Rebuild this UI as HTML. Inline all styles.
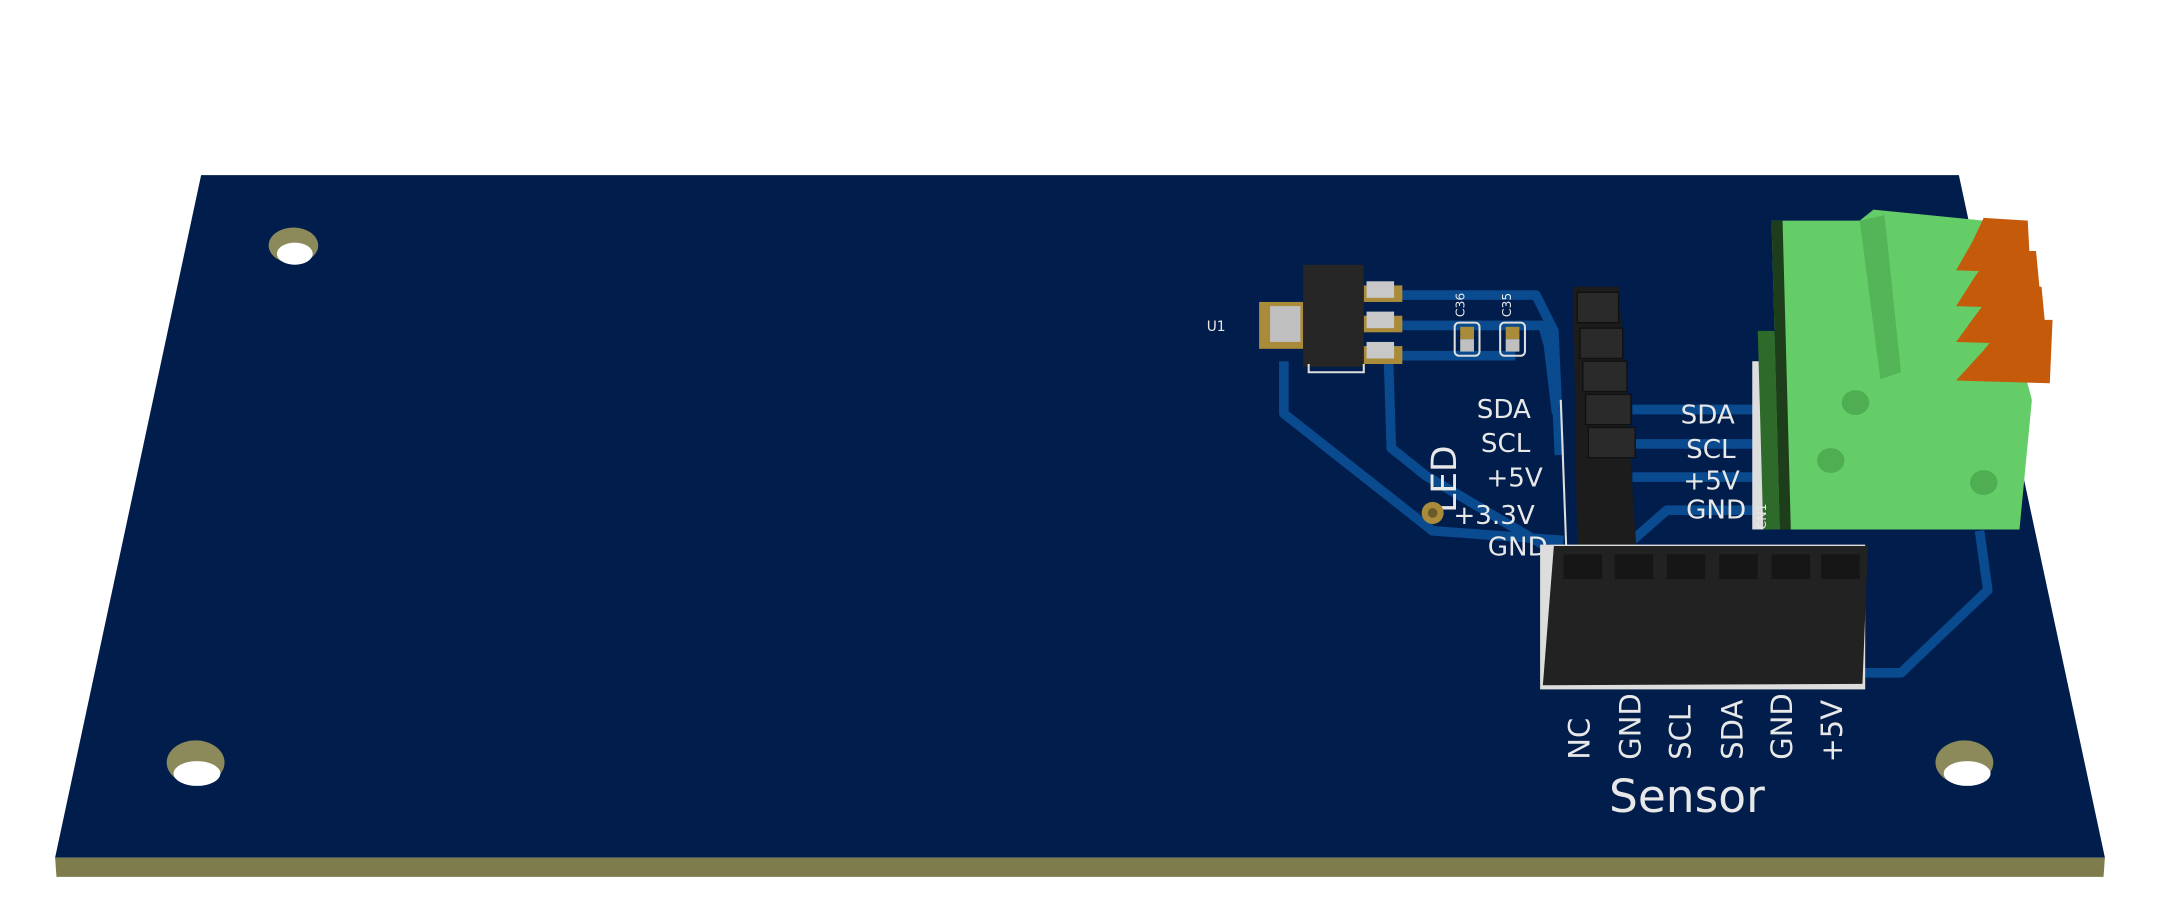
<!DOCTYPE html>
<html><head><meta charset="utf-8"><style>
html,body{margin:0;padding:0;background:#fff;}
svg{display:block;}
text{font-family:"DejaVu Sans","Liberation Sans",sans-serif;fill:#e8e8e8;}
</style></head><body>
<svg width="2160" height="910" viewBox="0 0 1568 660" preserveAspectRatio="none" xmlns="http://www.w3.org/2000/svg">
<rect width="1568" height="660" fill="#fff"/>
<polygon points="146,127 1422,127 1528,622 40,622" fill="#001d4b"/>
<polygon points="40,622 1528,622 1527,636 41,636" fill="#7e7c4c"/>
<g>
<ellipse cx="213" cy="178" rx="18" ry="13" fill="#8c8a5a"/><ellipse cx="214" cy="184" rx="13" ry="8" fill="#fff"/>
<ellipse cx="142" cy="553" rx="21" ry="16" fill="#8c8a5a"/><ellipse cx="143" cy="561" rx="17" ry="9" fill="#fff"/>
<ellipse cx="1426" cy="553" rx="21" ry="16" fill="#8c8a5a"/><ellipse cx="1428" cy="561" rx="17" ry="9" fill="#fff"/>
</g>
<g fill="none" stroke="#0a4a8e" stroke-width="7" stroke-linejoin="round">
<polyline points="1010,214 1115,214 1128,240 1132,330"/>
<polyline points="1010,236 1120,236 1124,250 1130,300"/>
<polyline points="1010,258 1100,258"/>
<polyline points="932,262 932,300 1040,385 1135,392"/>
<polyline points="1008,262 1010,325 1035,345 1120,395"/>
<polyline points="1185,297 1282,297"/>
<polyline points="1185,322 1282,322"/>
<polyline points="1185,346 1282,346"/>
<polyline points="1185,392 1210,370 1280,370"/>
<polyline points="1350,488 1380,488 1443,428 1437,385"/>
</g>
<text x="876" y="240" font-size="10">U1</text>
<rect x="914" y="219" width="32" height="34" fill="#a98b3a"/>
<rect x="922" y="222" width="22" height="26" fill="#c0c0c0"/>
<rect x="990" y="207" width="28" height="12" fill="#a98b3a"/>
<rect x="990" y="229" width="28" height="12" fill="#a98b3a"/>
<rect x="990" y="251" width="28" height="13" fill="#a98b3a"/>
<rect x="992" y="204" width="20" height="12" fill="#c8c8c8"/>
<rect x="992" y="226" width="20" height="12" fill="#c8c8c8"/>
<rect x="992" y="248" width="20" height="12" fill="#c8c8c8"/>
<rect x="946" y="192" width="44" height="74" fill="#262626"/>
<polyline points="950,264 950,270 990,270 990,264" fill="none" stroke="#ddd" stroke-width="1.5"/>
<text font-size="9" transform="translate(1063,230) rotate(-90)">C36</text>
<text font-size="9" transform="translate(1097,230) rotate(-90)">C35</text>
<rect x="1056" y="234" width="18" height="24" rx="3" fill="none" stroke="#ddd" stroke-width="1.5"/>
<rect x="1060" y="237" width="10" height="9" fill="#a98b3a"/><rect x="1060" y="246" width="10" height="9" fill="#c0c0c0"/>
<rect x="1089" y="234" width="18" height="24" rx="3" fill="none" stroke="#ddd" stroke-width="1.5"/>
<rect x="1093" y="237" width="10" height="9" fill="#a98b3a"/><rect x="1093" y="246" width="10" height="9" fill="#c0c0c0"/>
<g font-size="19">
<text x="1072" y="303">SDA</text>
<text x="1075" y="328">SCL</text>
<text x="1079" y="353">+5V</text>
<text x="1055" y="380">+3.3V</text>
<text x="1080" y="403">GND</text>
<text x="1220" y="307">SDA</text>
<text x="1224" y="332">SCL</text>
<text x="1222" y="355">+5V</text>
<text x="1224" y="376">GND</text>
</g>
<text font-size="25" transform="translate(1057,372) rotate(-90)">LED</text>
<circle cx="1040" cy="372" r="8" fill="#a98b3a"/><circle cx="1040" cy="372" r="3.5" fill="#6a5a2a"/>
<polygon points="1142,208 1175,208 1188,398 1145,398" fill="#1c1c1c"/>
<g fill="#2a2a2a" stroke="#111" stroke-width="1">
<rect x="1145" y="212" width="30" height="22"/><rect x="1147" y="238" width="31" height="22"/><rect x="1149" y="262" width="32" height="22"/><rect x="1151" y="286" width="33" height="22"/><rect x="1153" y="310" width="34" height="22"/>
</g>
<polyline points="1133,290 1137,398" stroke="#ddd" stroke-width="1.5" fill="none"/>
<rect x="1118" y="395" width="236" height="105" fill="#ddd"/>
<polygon points="1128,396 1356,396 1352,496 1120,497" fill="#222"/>
<g fill="#161616">
<rect x="1135" y="402" width="28" height="18"/><rect x="1172" y="402" width="28" height="18"/><rect x="1210" y="402" width="28" height="18"/><rect x="1248" y="402" width="28" height="18"/><rect x="1286" y="402" width="28" height="18"/><rect x="1322" y="402" width="28" height="18"/>
</g>
<g font-size="21">
<text transform="translate(1154,551) rotate(-90)">NC</text>
<text transform="translate(1191,551) rotate(-90)">GND</text>
<text transform="translate(1227,551) rotate(-90)">SCL</text>
<text transform="translate(1265,551) rotate(-90)">SDA</text>
<text transform="translate(1301,551) rotate(-90)">GND</text>
<text transform="translate(1337,553) rotate(-90)">+5V</text>
</g>
<text x="1168" y="589" font-size="33">Sensor</text>
<rect x="1272" y="262" width="194" height="122" fill="#ddd"/>
<polygon points="1276,240 1288,240 1294,384 1280,384" fill="#2e6a2a"/>
<polygon points="1286,160 1350,160 1360,152 1440,160 1475,290 1466,384 1292,384" fill="#64cd68"/>
<polygon points="1286,160 1294,160 1300,384 1292,384" fill="#1e3d1a"/>
<polygon points="1350,160 1368,156 1380,270 1365,275" fill="#54b558"/>
<g fill="#c55a0a">
<polygon points="1440,158 1472,160 1474,198 1420,196 1432,175"/>
<polygon points="1448,182 1478,182 1482,224 1420,222 1434,200"/>
<polygon points="1452,206 1482,208 1486,250 1420,248 1436,226"/>
<polygon points="1458,232 1490,232 1488,278 1420,276 1440,254"/>
</g>
<ellipse cx="1347" cy="292" rx="10" ry="9" fill="#4fae52"/>
<ellipse cx="1329" cy="334" rx="10" ry="9" fill="#4fae52"/>
<ellipse cx="1440" cy="350" rx="10" ry="9" fill="#4fae52"/>
<text transform="translate(1282,384) rotate(-90)" font-size="9">CN1</text>
</svg>
</body></html>
